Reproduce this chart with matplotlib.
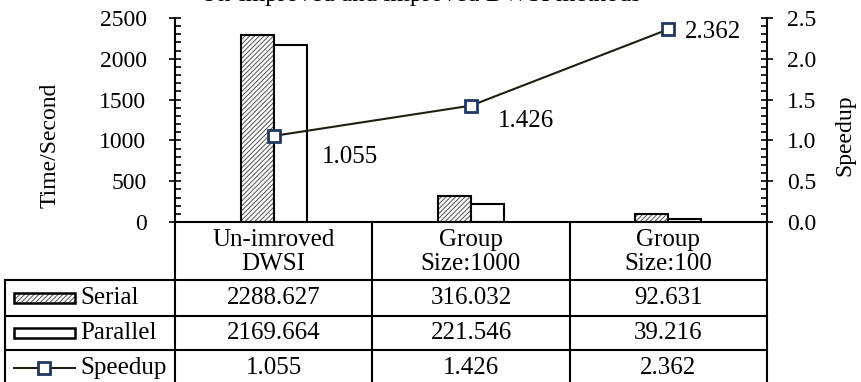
import numpy as np
import matplotlib
matplotlib.use('Agg')
import matplotlib.pyplot as plt
from matplotlib.lines import Line2D
from matplotlib.patches import Rectangle
from matplotlib.ticker import MultipleLocator, FormatStrFormatter

plt.rcParams['font.family'] = ['Liberation Serif', 'DejaVu Serif']
plt.rcParams['hatch.linewidth'] = 0.7

groups = ['Un-imroved\nDWSI', 'Group\nSize:1000', 'Group\nSize:100']
serial = [2288.627, 316.032, 92.631]
parallel = [2169.664, 221.546, 39.216]
speedup = [1.055, 1.426, 2.362]

W, H = 861, 382
FS = 17
FS_TAB = 18
fig = plt.figure(figsize=(W / 100, H / 100), dpi=100)

# plot area in pixels
px_l, px_t, px_r, px_b = 175, 18, 767, 222
ax = fig.add_axes([px_l / W, 1 - px_b / H, (px_r - px_l) / W, (px_b - px_t) / H])

x = np.arange(len(groups))
bw = 0.168
ax.bar(x - bw / 2, serial, bw, color='white', edgecolor='#505050', hatch='///////', linewidth=0)
ax.bar(x - bw / 2, serial, bw, fill=False, edgecolor='black', linewidth=1.5)
ax.bar(x + bw / 2, parallel, bw, color='white', edgecolor='black', linewidth=1.5)

ax.set_xlim(-0.5, 2.5)
ax.set_ylim(0, 2500)
ax.set_xticks([])
ax.yaxis.set_major_locator(MultipleLocator(500))
ax.yaxis.set_minor_locator(MultipleLocator(100))
ax.tick_params(axis='y', which='major', direction='inout', length=9, width=1.2, pad=16, labelsize=FS)
ax.tick_params(axis='y', which='minor', direction='in', length=4, width=1.2)
ax.spines['top'].set_visible(False)
ax.spines['right'].set_visible(False)
for s in ('left', 'bottom'):
    ax.spines[s].set_linewidth(1.5)

ax2 = ax.twinx()
ax2.set_ylim(0, 2.5)
ax2.yaxis.set_major_locator(MultipleLocator(0.5))
ax2.yaxis.set_minor_locator(MultipleLocator(0.1))
ax2.yaxis.set_major_formatter(FormatStrFormatter('%.1f'))
ax2.tick_params(axis='y', which='major', direction='inout', length=9, width=1.2, pad=10, labelsize=FS)
ax2.tick_params(axis='y', which='minor', direction='in', length=4, width=1.2)
for s in ('top', 'left', 'bottom'):
    ax2.spines[s].set_visible(False)
ax2.spines['right'].set_linewidth(1.5)

line_kw = dict(color='#1e1e14', lw=1.5, marker='s', ms=8, mfc='white', mec='#1f3864', mew=2)
ax2.plot(x, speedup, **line_kw)
label_offsets = [(76, -21), (55, -15), (45, -3)]
for xi, v, off in zip(x, speedup, label_offsets):
    ax2.annotate('%.3f' % v, (xi, v), xytext=off, textcoords='offset pixels',
                 ha='center', va='center', fontsize=FS_TAB)

fig.text(50 / W, 1 - 145 / H, 'Time/Second', rotation=90, ha='center', va='center', fontsize=FS)
fig.text(845 / W, 1 - 135 / H, 'Speedup', rotation=90, ha='center', va='center', fontsize=FS)
# title sits mostly above the top edge
fig.text(200 / W, 1 - 1 / H, 'Un-improved and improved DWSI methods', ha='left', va='baseline', fontsize=18)

# data table under the plot, drawn in pixel units
tb = fig.add_axes([0, 0, 1, 1])
tb.set_xlim(0, W)
tb.set_ylim(H, 0)
tb.axis('off')
tab_l = 5
rows = [px_b, 280, 316, 350, 392]
col_w = (px_r - px_l) / len(groups)
lw = 1.5
for yy in rows[1:4]:
    tb.add_line(Line2D([tab_l, px_r], [yy, yy], color='black', lw=lw))
for i in range(len(groups) + 1):
    xx = px_l + i * col_w
    tb.add_line(Line2D([xx, xx], [rows[0], rows[-1]], color='black', lw=lw))
tb.add_line(Line2D([tab_l, tab_l], [rows[1], rows[-1]], color='black', lw=lw))

for i, g in enumerate(groups):
    cx = px_l + (i + 0.5) * col_w
    tb.text(cx, (rows[0] + rows[1]) / 2 + 1, g, ha='center', va='center', fontsize=FS_TAB,
            linespacing=1.15, multialignment='center')
    for r, vals in enumerate([serial, parallel, speedup]):
        cy = (rows[r + 1] + rows[r + 2]) / 2
        if r == 2:
            cy = 368
        tb.text(cx, cy, '%.3f' % vals[i], ha='center', va='center', fontsize=FS_TAB)

names = ['Serial', 'Parallel', 'Speedup']
for r, name in enumerate(names):
    cy = (rows[r + 1] + rows[r + 2]) / 2
    if r == 2:
        cy = 368
    if r == 0:
        tb.add_patch(Rectangle((14, cy - 5), 61, 10, facecolor='white', edgecolor='#505050',
                               hatch='///////', lw=0))
        tb.add_patch(Rectangle((14, cy - 5), 61, 10, fill=False, edgecolor='black', lw=1.8))
    elif r == 1:
        tb.add_patch(Rectangle((14, cy - 5), 61, 10, facecolor='white', edgecolor='black', lw=1.8))
    else:
        tb.add_line(Line2D([14, 75], [cy, cy], color=line_kw['color'], lw=1.5))
        tb.plot([44], [cy], **{k: v for k, v in line_kw.items() if k not in ('color', 'lw')})
    tb.text(80, cy, name, ha='left', va='center', fontsize=FS_TAB)

fig.savefig('out.png', dpi=100)
